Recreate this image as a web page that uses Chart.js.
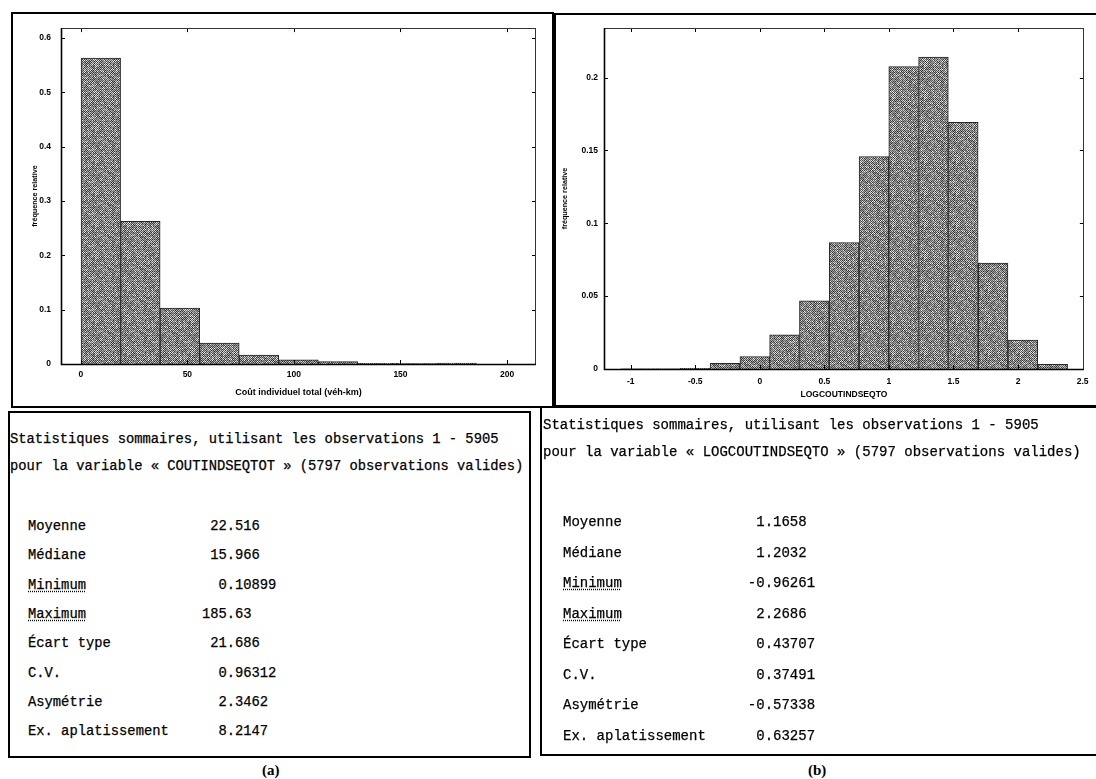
<!DOCTYPE html>
<html>
<head>
<meta charset="utf-8">
<script src="https://cdn.jsdelivr.net/npm/chart.js@4.4.1/dist/chart.umd.min.js"></script>
<style>
  html, body { margin: 0; padding: 0; background: #fff; }
  body { position: relative; width: 1096px; height: 779px; overflow: hidden; }
  canvas { position: absolute; }
  .frame { position: absolute; box-sizing: border-box; border: 2px solid #000; pointer-events: none; }
  .stats { position: absolute; font-family: "Liberation Mono", monospace; white-space: pre; color: #000; line-height: 20px; -webkit-text-stroke: 0.25px #000; }
  .stats .line { position: absolute; left: 0; }
  .stats u { text-decoration: underline dotted; text-underline-offset: 2px; }
  .cap { position: absolute; font-family: "Liberation Serif", serif; font-weight: bold; font-size: 15px; line-height: 16px; }
</style>
</head>
<body>

<canvas id="histA" width="541" height="394" style="left:12px;top:13px"></canvas>
<div class="frame" style="left:11px;top:12px;width:543px;height:396px;"></div>

<canvas id="histB" width="543" height="393" style="left:553px;top:13px"></canvas>
<div class="frame" style="left:553px;top:13px;width:550px;height:394px;border-left-width:3px;"></div>

<div id="statsA" class="stats" style="left:8px;top:411px;width:522px;height:346px;font-size:13.8px;"></div>
<div class="frame" style="left:8px;top:411px;width:523px;height:347px;"></div>

<div id="statsB" class="stats" style="left:540px;top:406px;width:560px;height:349px;font-size:14px;"></div>
<div class="frame" style="left:540px;top:406px;width:560px;height:350px;"></div>

<div class="cap" style="left:262px;top:762px;">(a)</div>
<div class="cap" style="left:808px;top:762px;">(b)</div>

<script>
// ---- (a) COUTINDSEQTOT: 10 bins, centres and relative frequencies ----
const binsA  = [9.39, 27.94, 46.49, 65.04, 83.59, 102.15, 120.70, 139.25, 157.80, 176.35];
const freqA  = [0.563, 0.2625, 0.103, 0.0387, 0.0165, 0.0079, 0.0045, 0.0012, 0.0008, 0.0015];
const xTicksA = [0, 50, 100, 150, 200];
const yTicksA = [0, 0.1, 0.2, 0.3, 0.4, 0.5, 0.6];

// ---- (b) LOGCOUTINDSEQTO: 15 bins, centres and relative frequencies ----
const binsB  = [-0.963, -0.732, -0.501, -0.270, -0.039, 0.191, 0.422, 0.653, 0.884, 1.114, 1.345, 1.576, 1.807, 2.037, 2.269];
const freqB  = [0.0002, 0.0002, 0.0005, 0.0039, 0.0085, 0.0234, 0.0467, 0.0868, 0.1458, 0.2076, 0.2141, 0.1692, 0.0726, 0.0199, 0.0032];
const xTicksB = [-1, -0.5, 0, 0.5, 1, 1.5, 2, 2.5];
const yTicksB = [0, 0.05, 0.1, 0.15, 0.2];

// ---- summary statistics ----
const statLabels = ['Moyenne', 'Médiane', 'Minimum', 'Maximum', 'Écart type', 'C.V.', 'Asymétrie', 'Ex. aplatissement'];
const statsA = ['22.516', '15.966', '0.10899', '185.63', '21.686', '0.96312', '2.3462', '8.2147'];
const statsB = ['1.1658', '1.2032', '-0.96261', '2.2686', '0.43707', '0.37491', '-0.57338', '0.63257'];
const headA = ['Statistiques sommaires, utilisant les observations 1 - 5905',
               'pour la variable « COUTINDSEQTOT » (5797 observations valides)'];
const headB = ['Statistiques sommaires, utilisant les observations 1 - 5905',
               'pour la variable « LOGCOUTINDSEQTO » (5797 observations valides)'];

// fine 1-px dithered grey used to fill the bars (deterministic hash texture)
function halftone(ctx) {
  const N = 32;
  const c = document.createElement('canvas');
  c.width = N; c.height = N;
  const g = c.getContext('2d');
  const img = g.createImageData(N, N);
  for (let y = 0; y < N; y++) for (let x = 0; x < N; x++) {
    let h = Math.imul(x, 374761393) ^ Math.imul(y, 668265263);
    h = Math.imul(h ^ (h >>> 13), 1274126177);
    h = (h ^ (h >>> 16)) & 255;
    const dark = ((x + y) & 1) === 0;
    const v = dark ? 0x28 + (h % 0x50) : 0x90 + (h % 0x68);
    const k = (y * N + x) * 4;
    img.data[k] = img.data[k + 1] = img.data[k + 2] = v;
    img.data[k + 3] = 255;
  }
  g.putImageData(img, 0, 0);
  return ctx.createPattern(c, 'repeat');
}

// plot frame with inward ticks mirrored on all four sides
const frameTicks = {
  id: 'frameTicks',
  afterDraw(chart) {
    const { ctx, chartArea: a, scales: { x, y } } = chart;
    const L = 4;
    ctx.save();
    ctx.strokeStyle = '#000';
    ctx.lineWidth = 1;
    ctx.beginPath();
    x.ticks.forEach(t => {
      const px = Math.round(x.getPixelForValue(t.value)) + 0.5;
      ctx.moveTo(px, a.bottom); ctx.lineTo(px, a.bottom - L);
      ctx.moveTo(px, a.top); ctx.lineTo(px, a.top + L);
    });
    y.ticks.forEach(t => {
      const py = Math.round(y.getPixelForValue(t.value)) + 0.5;
      ctx.moveTo(a.left, py); ctx.lineTo(a.left + L, py);
      ctx.moveTo(a.right, py); ctx.lineTo(a.right - L, py);
    });
    ctx.stroke();
    ctx.lineWidth = 1;
    ctx.strokeStyle = '#333';
    ctx.strokeRect(Math.round(a.left) + 0.5, Math.round(a.top) + 0.5,
                   Math.round(a.right - a.left) - 1, Math.round(a.bottom - a.top));
    ctx.lineWidth = 1.6;
    ctx.strokeStyle = '#000';
    ctx.beginPath();
    ctx.moveTo(a.left + 0.5, a.top); ctx.lineTo(a.left + 0.5, a.bottom + 0.5);
    ctx.lineTo(a.right, a.bottom + 0.5);
    ctx.stroke();
    ctx.restore();
  }
};

const tickFont = { family: '"Liberation Sans", Arial, sans-serif', weight: 'bold', size: 8.5 };
const plainNumber = v => String(Math.round(v * 1000) / 1000);

function histogram(id, g) {
  const canvas = document.getElementById(id);
  const ctx = canvas.getContext('2d');
  return new Chart(ctx, {
    type: 'bar',
    data: {
      datasets: [{
        data: g.bins.map((b, i) => ({ x: b, y: g.freq[i] })),
        backgroundColor: halftone(ctx),
        borderColor: '#262626',
        borderWidth: 1,
        borderSkipped: 'start',
        barPercentage: 1,
        categoryPercentage: 1
      }]
    },
    options: {
      responsive: false,
      animation: false,
      devicePixelRatio: 1,
      layout: { padding: { left: 0, top: g.padTop, right: g.padRight, bottom: 0 } },
      plugins: { legend: { display: false }, tooltip: { enabled: false } },
      scales: {
        x: {
          type: 'linear', offset: false,
          min: g.xMin, max: g.xMax,
          afterBuildTicks: s => { s.ticks = g.xTicks.map(v => ({ value: v })); },
          afterFit: s => { s.height = g.xHeight; },
          grid: { display: false, drawTicks: false },
          border: { display: false },
          ticks: { font: tickFont, color: '#000', padding: g.xTickPad, maxRotation: 0, autoSkip: false, callback: plainNumber },
          title: { display: true, text: g.xTitle, color: '#000',
                   font: { family: '"Liberation Sans", Arial, sans-serif', weight: 'bold', size: g.xTitleSize },
                   padding: { top: 0, bottom: g.xTitlePad } }
        },
        y: {
          type: 'linear',
          min: 0, max: g.yMax,
          afterBuildTicks: s => { s.ticks = g.yTicks.map(v => ({ value: v })); },
          afterFit: s => { s.width = g.yWidth; },
          grid: { display: false, drawTicks: false },
          border: { display: false },
          ticks: { font: tickFont, color: '#000', padding: g.yTickPad, autoSkip: false, callback: plainNumber },
          title: { display: true, text: 'fréquence relative', color: '#000',
                   font: { family: '"Liberation Sans", Arial, sans-serif', weight: 'bold', size: 7.2 },
                   padding: { top: g.yTitlePad, bottom: 0 } }
        }
      }
    },
    plugins: [frameTicks]
  });
}

histogram('histA', {
  bins: binsA, freq: freqA, xTicks: xTicksA, yTicks: yTicksA,
  xMin: -9.3, xMax: 213.6, yMax: 0.618,
  padTop: 15, padRight: 17, xHeight: 43, yWidth: 49,
  xTickPad: 6, yTickPad: 10, xTitle: 'Coût individuel total (véh-km)', xTitleSize: 9, xTitlePad: 8.6, yTitlePad: 18.6
});

histogram('histB', {
  bins: binsB, freq: freqB, xTicks: xTicksB, yTicks: yTicksB,
  xMin: -1.207, xMax: 2.51, yMax: 0.234,
  padTop: 15, padRight: 8, xHeight: 37, yWidth: 51,
  xTickPad: 7.5, yTickPad: 6, xTitle: 'LOGCOUTINDSEQTO', xTitleSize: 8.5, xTitlePad: 5.9, yTitlePad: 7.6
});

// summary tables, values aligned on the decimal point
function fillStats(el, head, values, geom) {
  head.forEach((txt, i) => {
    const d = document.createElement('div');
    d.className = 'line';
    d.style.left = geom.headX + 'px';
    d.style.top = (geom.headY[i] - 10) + 'px';
    d.textContent = txt;
    el.appendChild(d);
  });
  statLabels.forEach((lab, i) => {
    const d = document.createElement('div');
    d.className = 'line';
    d.style.left = geom.rowX + 'px';
    d.style.top = (geom.rowY0 + i * geom.rowStep - 10) + 'px';
    const s = document.createElement(lab === 'Minimum' || lab === 'Maximum' ? 'u' : 'span');
    s.textContent = lab;
    d.appendChild(s);
    const v = values[i];
    const intLen = v.split('.')[0].length;
    d.appendChild(document.createTextNode(' '.repeat(24 - intLen - lab.length) + v));
    el.appendChild(d);
  });
}

fillStats(document.getElementById('statsA'), headA, statsA,
  { headX: 2, headY: [29, 56], rowX: 20, rowY0: 116, rowStep: 29.3 });
fillStats(document.getElementById('statsB'), headB, statsB,
  { headX: 3, headY: [19, 46], rowX: 23, rowY0: 116, rowStep: 30.5 });
</script>
</body>
</html>
